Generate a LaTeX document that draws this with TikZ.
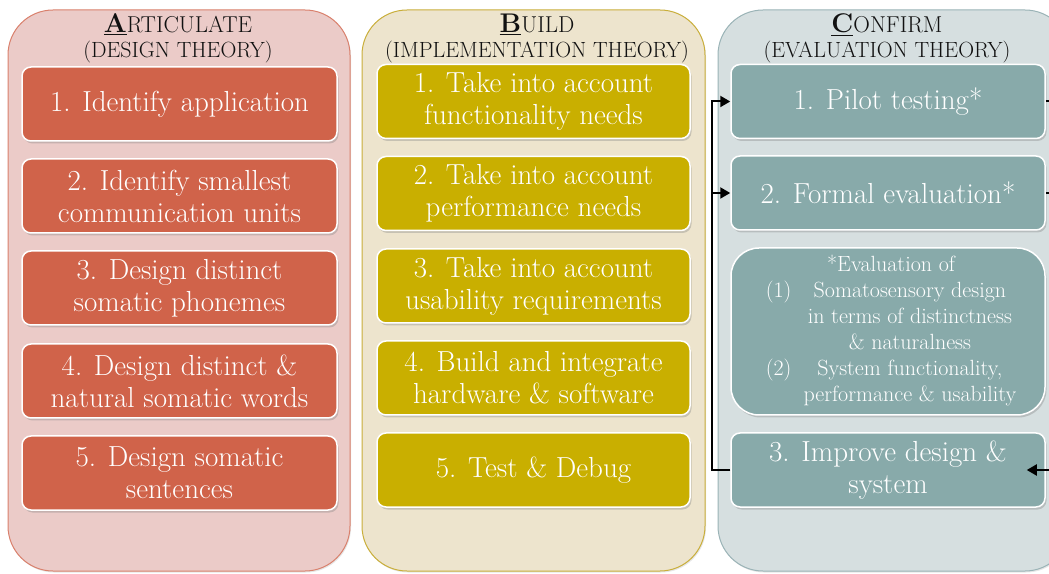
\documentclass[tikz,border=0pt]{standalone}
\usetikzlibrary{shadows,arrows.meta,calc}
\definecolor{aout}{HTML}{EBCBC8}
\definecolor{aline}{HTML}{D9806C}
\definecolor{ain}{HTML}{D0634A}
\definecolor{bout}{HTML}{EDE4CD}
\definecolor{bline}{HTML}{C9AE3A}
\definecolor{bin}{HTML}{C9AF00}
\definecolor{cout}{HTML}{D6DFE0}
\definecolor{cline}{HTML}{9AB3B6}
\definecolor{cin}{HTML}{88AAAA}
\definecolor{ttl}{HTML}{111111}
\tikzset{
  colbox/.style={rounded corners=45pt, line width=1pt, minimum height=561pt, inner sep=0pt,
    drop shadow={opacity=0.2, shadow xshift=1pt, shadow yshift=-1.5pt}},
  stepbox/.style={rounded corners=9pt, draw=white, line width=1.5pt, minimum width=314pt,
    minimum height=74pt, text=white, align=center, inner sep=0pt,
    font=\fontsize{29}{32}\selectfont,
    drop shadow={opacity=0.35, shadow xshift=1.5pt, shadow yshift=-2.5pt}},
  tline/.style={anchor=base, text=ttl, inner sep=0pt},
  conn/.style={line width=2pt, draw=black},
  tip/.style={-{Triangle[length=10pt,width=11pt]}}
}
\newcommand{\bigL}[1]{{\fontsize{27}{27}\selectfont\underline{\textbf{#1}}}}
\newcommand{\restL}[1]{{\fontsize{23}{23}\selectfont #1}}
\begin{document}
\begin{tikzpicture}[x=1pt,y=1pt]
\useasboundingbox (0,0) rectangle (1049,573);
\clip (0,0) rectangle (1049,573);
% columns
\node[colbox, draw=aline, fill=aout, minimum width=342pt] (colA) at (179,282.5) {};
\node[colbox, draw=bline, fill=bout, minimum width=343pt] (colB) at (533.5,282.5) {};
\node[colbox, draw=cline, fill=cout, minimum width=352pt] (colC) at (894,282.5) {};
% titles
\node[tline] (tA1) at (178,540) {\bigL{A}\restL{RTICULATE}};
\node[tline, font=\fontsize{22}{22}\selectfont] (tA2) at (178,515) {(DESIGN THEORY)};
\node[tline] (tB1) at (537,540) {\bigL{B}\restL{UILD}};
\node[tline, font=\fontsize{22}{22}\selectfont] (tB2) at (537,515) {(IMPLEMENTATION THEORY)};
\node[tline] (tC1) at (887,540) {\bigL{C}\restL{ONFIRM}};
\node[tline, font=\fontsize{22}{22}\selectfont] (tC2) at (887,515) {(EVALUATION THEORY)};
% column A
\node[stepbox, fill=ain, minimum width=315pt] (A1) at (179.5,469) {1. Identify application};
\node[stepbox, fill=ain, minimum width=315pt] (A2) at (179.5,377) {2. Identify smallest\\communication units};
\node[stepbox, fill=ain, minimum width=315pt] (A3) at (179.5,285) {3. Design distinct\\somatic phonemes};
\node[stepbox, fill=ain, minimum width=315pt] (A4) at (179.5,192) {4. Design distinct \&\\natural somatic words};
\node[stepbox, fill=ain, minimum width=315pt] (A5) at (179.5,100) {5. Design somatic\\sentences};
% column B
\node[stepbox, fill=bin, minimum width=313pt] (B1) at (533.5,471.5) {1. Take into account\\functionality needs};
\node[stepbox, fill=bin, minimum width=313pt] (B2) at (533.5,379.5) {2. Take into account\\performance needs};
\node[stepbox, fill=bin, minimum width=313pt] (B3) at (533.5,287) {3. Take into account\\usability requirements};
\node[stepbox, fill=bin, minimum width=313pt] (B4) at (533.5,195) {4. Build and integrate\\hardware \& software};
\node[stepbox, fill=bin, minimum width=313pt] (B5) at (533.5,103) {5. Test \& Debug};
% column C
\node[stepbox, fill=cin] (C1) at (888,471.5) {1. Pilot testing*};
\node[stepbox, fill=cin] (C2) at (888,380) {2. Formal evaluation*};
\node[stepbox, fill=cin, minimum height=167pt, rounded corners=28pt] (CE) at (888,241.5) {};
\node[text=white, inner sep=0pt, font=\fontsize{22}{26}\selectfont] (CEt) at (891,241.5) {%
\begin{tabular}{@{}l@{\hspace{0.55em}}c@{}}
\multicolumn{2}{c}{*Evaluation of}\\
(1) & Somatosensory design\\
    & in terms of distinctness\\
    & \& naturalness\\
(2) & System functionality,\\
    & performance \& usability
\end{tabular}};
\node[stepbox, fill=cin] (C3) at (888,103) {3. Improve design \&\\system};
% connectors
\coordinate (loopx) at (712,0);
\coordinate (redge) at (1060,0);
\draw[conn, tip] (C3.west) -- (C3.west -| loopx) |- (C1.west);
\draw[conn, tip] (C2.west -| loopx) -- (C2.west);
\draw[conn] (C1.east) -- (C1.east -| redge);
\draw[conn] (C2.east) -- (C2.east -| redge);
\draw[conn, tip] (C3.east -| redge) -- ($(C3.east)+(-19,0)$);
\end{tikzpicture}
\end{document}
